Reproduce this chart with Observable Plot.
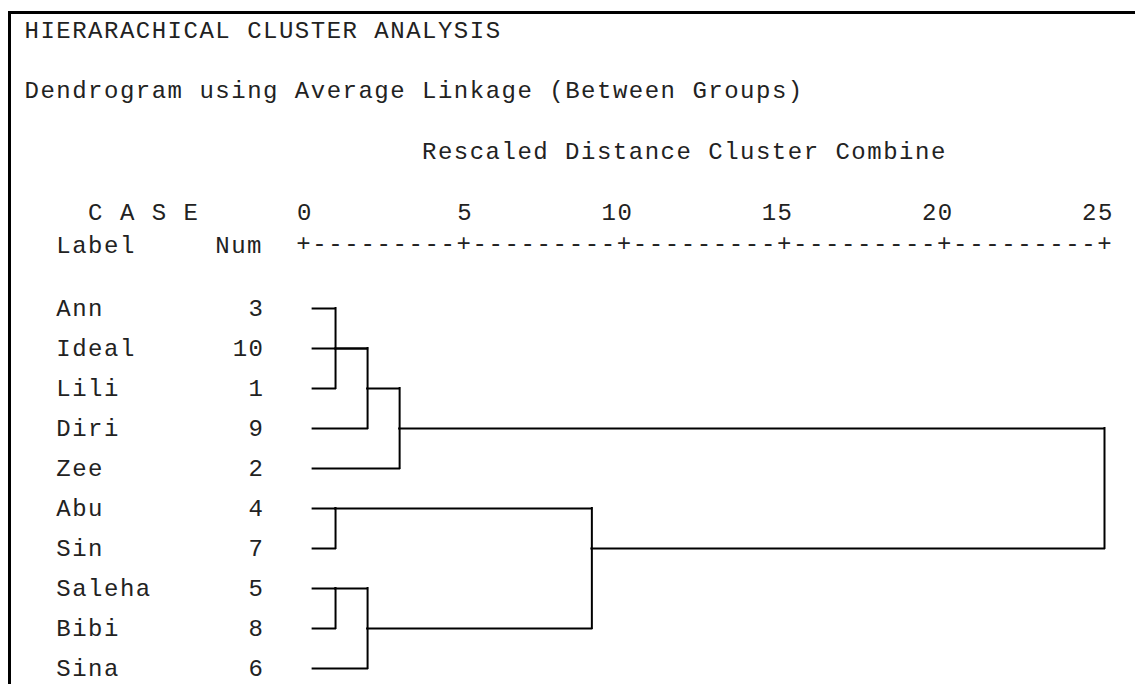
<!DOCTYPE html>
<html>
<head>
<meta charset="utf-8">
<script src="https://cdn.jsdelivr.net/npm/d3@7"></script>
<script src="https://cdn.jsdelivr.net/npm/@observablehq/plot@0.6"></script>
<style>
html, body { margin: 0; padding: 0; background: #fff; }
#wrap { position: relative; width: 1135px; height: 684px; overflow: hidden; background: #fff; }
#chart svg { position: absolute; left: 0; top: 0; }
#frame { position: absolute; left: 8px; top: 11px; width: 1300px; height: 900px;
         border-left: 3px solid #000; border-top: 3px solid #000; pointer-events: none; }
</style>
</head>
<body>
<div id="wrap"><div id="chart"></div><div id="frame"></div></div>
<script>
// ---- text ----
const titleText = "HIERARACHICAL CLUSTER ANALYSIS";
const subtitleText = "Dendrogram using Average Linkage (Between Groups)";
const axisTitle = "Rescaled Distance Cluster Combine";
const caseHeader = "C A S E";
const labelHeader = "Label";
const numHeader = "Num";

// ---- cases (top to bottom) ----
const caseLabels = ["Ann", "Ideal", "Lili", "Diri", "Zee", "Abu", "Sin", "Saleha", "Bibi", "Sina"];
const caseNums   = [3, 10, 1, 9, 2, 4, 7, 5, 8, 6];
// rescaled distance at which each case's line joins its first cluster
const leafJoin   = [1, 2, 1, 2, 3, 1, 1, 1, 1, 2];

// ---- cluster merges ----
const nodeDist   = [1, 2, 3, 1, 1, 2, 9, 25];
const nodeTop    = ["Ann", "Ideal", "Lili", "Abu", "Saleha", "Saleha", "Abu", "Diri"];
const nodeBottom = ["Lili", "Diri", "Zee", "Sin", "Bibi", "Sina", "Bibi", "Sin"];
const nodeParent = [1, 2, 7, 6, 5, 6, 7, -1];

// ---- axis ticks ----
const distTicks = [0, 5, 10, 15, 20, 25];

// ---- derived tables ----
const leafStart = 0.3;
const rowOf = name => caseLabels.indexOf(name);
const cases = caseLabels.map((label, i) => ({label, num: caseNums[i], join: leafJoin[i]}));
const verticals = nodeDist.map((d, i) => ({x: d, y1: nodeTop[i], y2: nodeBottom[i]}));
const horizontals = [
  ...cases.map(c => ({y: c.label, x1: leafStart, x2: c.join})),
  ...nodeDist.flatMap((d, i) => nodeParent[i] < 0 ? [] : [{
    y: caseLabels[Math.floor((rowOf(nodeTop[i]) + rowOf(nodeBottom[i])) / 2)],
    x1: d, x2: nodeDist[nodeParent[i]]
  }])
];
const dashes = d3.range(0.5, 25, 0.5).filter(v => v % 5 !== 0);

const ML = 303, MT = 308;
const ink = "#222";

const chart = Plot.plot({
  width: 1135,
  height: 684,
  marginTop: MT,
  marginBottom: 16,
  marginLeft: ML,
  marginRight: 31,
  x: {domain: [0, 25], axis: null},
  y: {type: "point", domain: caseLabels, padding: 0, axis: null},
  style: "font-family: 'Liberation Mono', 'DejaVu Sans Mono', monospace; font-size: 24px; letter-spacing: 1.5px; background: transparent; overflow: visible;",
  marks: [
    // header lines
    Plot.text([titleText], {text: d => d, frameAnchor: "top-left", textAnchor: "start", lineAnchor: "bottom", dx: 24 - ML, dy: 37 - MT, fill: ink}),
    Plot.text([subtitleText], {text: d => d, frameAnchor: "top-left", textAnchor: "start", lineAnchor: "bottom", dx: 24 - ML, dy: 97 - MT, fill: ink}),
    Plot.text([axisTitle], {text: d => d, frameAnchor: "top-left", textAnchor: "start", lineAnchor: "bottom", dx: 421.5 - ML, dy: 158 - MT, fill: ink}),
    Plot.text([caseHeader], {text: d => d, frameAnchor: "top-left", textAnchor: "start", lineAnchor: "bottom", dx: 87.6 - ML, dy: 219 - MT, fill: ink}),
    Plot.text([labelHeader], {text: d => d, frameAnchor: "top-left", textAnchor: "start", lineAnchor: "bottom", dx: 55.8 - ML, dy: 252 - MT, fill: ink}),
    Plot.text([numHeader], {text: d => d, frameAnchor: "top-left", textAnchor: "start", lineAnchor: "bottom", dx: 214.8 - ML, dy: 252 - MT, fill: ink}),
    // distance scale: numbers end in the column of their "+"
    Plot.text(distTicks, {x: d => d, text: d => String(d), frameAnchor: "top", textAnchor: "end", lineAnchor: "bottom", dy: 219 - MT, dx: 9.4, fill: ink}),
    Plot.text(distTicks, {x: d => d, text: () => "+", frameAnchor: "top", lineAnchor: "bottom", dy: 250 - MT, dx: 0.75, fill: ink}),
    Plot.text(dashes, {x: d => d, text: () => "-", frameAnchor: "top", lineAnchor: "bottom", dy: 250 - MT, dx: 0.75, fill: ink}),
    // case labels and numbers
    Plot.text(cases, {y: "label", text: "label", frameAnchor: "left", textAnchor: "start", lineAnchor: "middle", dx: 55.8 - ML, fill: ink}),
    Plot.text(cases, {y: "label", text: d => String(d.num), frameAnchor: "left", textAnchor: "end", lineAnchor: "middle", dx: 264 - ML, fill: ink}),
    // dendrogram
    Plot.ruleY(horizontals, {y: "y", x1: "x1", x2: "x2", stroke: "#000", strokeWidth: 2, strokeLinecap: "square"}),
    Plot.ruleX(verticals, {x: "x", y1: "y1", y2: "y2", stroke: "#000", strokeWidth: 2, strokeLinecap: "square"})
  ]
});
document.getElementById("chart").appendChild(chart);
</script>
</body>
</html>
